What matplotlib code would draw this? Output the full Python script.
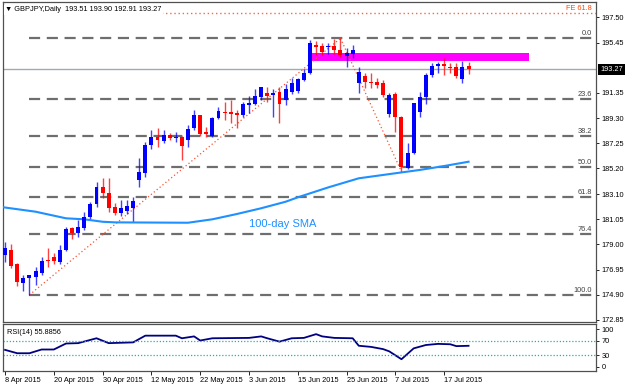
import pandas as pd
import matplotlib
matplotlib.use('Agg')
import matplotlib.pyplot as plt
from matplotlib.patches import Rectangle

plt.rcParams['font.family'] = ['Liberation Sans', 'DejaVu Sans']

# daily bars, 8 Apr 2015 .. 23 Jul 2015
dates = pd.bdate_range('2015-04-08', periods=77)

opens = [178.14, 178.55, 177.41, 175.84, 176.25, 176.38, 176.70, 177.74, 178.00, 177.60,
         178.55, 180.32, 179.96, 180.32, 181.26, 182.30, 183.71, 183.22, 182.03, 181.56,
         181.73, 181.95, 184.25, 184.82, 187.10, 187.79, 187.45, 187.92, 187.65, 187.78,
         187.55, 188.46, 189.55, 188.18, 187.83, 189.27, 189.81, 189.81, 189.73, 189.55,
         190.36, 190.44, 191.04, 191.36, 191.15, 191.44, 190.77, 191.42, 191.50, 192.40,
         192.94, 195.25, 195.16, 195.06, 195.16, 194.84, 194.35, 194.51, 192.15, 192.72,
         192.26, 192.26, 192.13, 189.63, 191.25, 189.35, 185.23, 186.47, 189.81, 191.04,
         192.80, 193.53, 193.67, 193.48, 193.43, 192.45, 193.51]
highs = [179.23, 179.04, 177.45, 176.52, 176.55, 177.19, 178.00, 178.71, 178.31, 178.96,
         180.40, 180.40, 180.99, 181.67, 182.48, 184.11, 184.39, 184.39, 182.35, 182.62,
         182.62, 182.89, 186.02, 187.37, 188.32, 188.46, 188.32, 188.10, 188.18, 187.83,
         188.73, 189.95, 189.57, 188.59, 189.41, 190.22, 190.63, 190.77, 189.95, 190.63,
         191.09, 191.64, 191.85, 191.80, 191.64, 191.85, 192.07, 192.53, 192.56, 193.27,
         195.65, 195.59, 195.38, 195.43, 195.71, 195.79, 194.98, 195.25, 193.43, 192.94,
         192.94, 192.53, 192.40, 191.31, 191.44, 189.45, 187.24, 190.55, 191.44, 192.99,
         193.75, 193.89, 194.16, 193.80, 193.80, 193.97, 193.90]
lows = [177.60, 177.06, 175.62, 175.24, 174.89, 175.70, 176.52, 177.19, 177.41, 177.41,
        178.49, 179.42, 179.59, 180.18, 180.99, 182.03, 182.76, 181.67, 181.40, 181.32,
        181.48, 180.85, 183.71, 184.50, 186.77, 186.94, 187.24, 187.51, 187.37, 185.88,
        186.98, 188.32, 187.83, 187.78, 187.73, 189.19, 189.14, 188.87, 188.46, 189.41,
        189.68, 190.36, 190.77, 190.63, 189.41, 188.87, 190.36, 191.25, 191.34, 192.34,
        192.88, 194.43, 194.43, 194.51, 194.51, 194.29, 193.43, 194.16, 191.31, 191.72,
        191.72, 191.72, 191.03, 189.41, 188.18, 184.93, 185.12, 186.37, 189.36, 190.44,
        192.66, 192.94, 192.80, 192.94, 192.53, 192.18, 192.91]
closes = [178.71, 177.27, 175.97, 176.25, 176.52, 176.84, 177.68, 177.63, 177.68, 178.55,
          180.29, 179.91, 180.40, 181.26, 182.30, 183.71, 183.22, 181.95, 181.59, 181.95,
          182.13, 182.54, 184.93, 187.10, 187.75, 187.47, 187.92, 187.65, 187.78, 187.02,
          188.38, 189.55, 187.99, 187.99, 189.27, 189.89, 189.68, 189.63, 189.55, 190.44,
          190.55, 191.09, 191.80, 191.09, 191.31, 190.44, 191.66, 192.15, 192.48, 192.99,
          195.38, 195.11, 194.70, 195.16, 194.84, 194.43, 194.62, 194.84, 193.05, 192.26,
          192.18, 191.99, 191.17, 191.17, 189.41, 185.31, 186.47, 190.50, 191.04, 192.80,
          193.53, 193.67, 193.53, 193.40, 192.72, 193.48, 193.27]

# 100-day SMA, read at a few bars
sma_idx = [-1, 0, 5, 10, 13, 16, 18, 30, 34, 38, 42, 46, 48, 53, 58, 64, 68, 72, 76]
sma_val = [182.08, 182.01, 181.67, 181.13, 181.05, 180.85, 180.80, 180.77, 181.05, 181.48,
           181.95, 182.48, 182.84, 183.65, 184.39, 184.80, 185.07, 185.39, 185.74]

# RSI(14)
rsi_idx = [0, 2, 4, 6, 8, 10, 12, 15, 17, 21, 23, 28, 29, 31, 32, 34, 40, 42, 43, 45,
           47, 49, 51, 52, 54, 57, 58, 60, 62, 63, 65, 67, 69, 71, 73, 74, 76]
rsi_val = [45, 36, 36, 46, 46, 62, 63, 76, 63, 65, 83, 83, 76, 81, 70, 76, 77, 81, 76, 67,
           76, 77, 87, 81, 77, 76, 56, 53, 47, 41, 20, 49, 58, 61, 60, 55, 55.8856]

# fibonacci drawing
i_lo, i_hi, i_lo2 = 4, 55, 65
swing_lo, swing_hi, swing_lo2 = 174.89, 195.79, 184.93
fib_levels = [0.0, 23.6, 38.2, 50.0, 61.8, 76.4, 100.0]
fe_level = 61.8
zone_lo, zone_hi = 193.94, 194.57
zone_start, zone_end = 50.3, 85.9
last_price = 193.27
price_ticks = [197.50, 195.45, 191.35, 189.30, 187.25, 185.20, 183.10, 181.05,
               179.00, 176.95, 174.90, 172.85]

FS = 5.3
x_min, x_max = -0.33, 96.9
line_end = 96.2

fig = plt.figure(figsize=(6.28, 3.87), dpi=100)
ax = fig.add_axes([0.0048, 0.1672, 0.9443, 0.8276])
ax_rsi = fig.add_axes([0.0048, 0.0413, 0.9443, 0.1202])

# candles
for i in range(len(opens)):
    o, h, l, c = opens[i], highs[i], lows[i], closes[i]
    col = '#0000FF' if c >= o else '#FF0000'
    ax.vlines(i, l, h, color=col, lw=1.0, alpha=0.75, zorder=3)
    body = max(abs(c - o), 0.06)
    ax.bar(i, body, bottom=min(o, c), width=0.65, color=col, zorder=4, lw=0)

# resistance zone
ax.add_patch(Rectangle((zone_start, zone_lo), zone_end - zone_start, zone_hi - zone_lo,
                       facecolor='#FF00FF', edgecolor='none', zorder=2))

# fib retracement levels
rng = swing_hi - swing_lo
for lv in fib_levels:
    y = swing_hi - rng * lv / 100
    ax.hlines(y, i_lo, line_end, colors='#6E6E6E', linestyles=(0, (5, 3)), lw=1.6, zorder=1)
    ax.text(line_end, y + 0.08, f'{lv:.1f}', ha='right', va='bottom', fontsize=FS,
            color='#404040', zorder=5)

# fib connectors
ax.plot([i_lo, i_hi], [swing_lo, swing_hi], color='#FF5030', ls=(0, (1, 2)), lw=0.9, zorder=2)
ax.plot([i_hi, i_lo2], [swing_hi, swing_lo2], color='#FF5030', ls=(0, (1, 2)), lw=0.9, zorder=2)

# fib expansion
fe = swing_lo2 + rng * fe_level / 100
ax.axhline(fe, color='#FF6347', ls=(0, (1, 2)), lw=1.0, zorder=1)
ax.text(line_end, fe + 0.06, f'FE {fe_level}', ha='right', va='bottom', fontsize=FS,
        color='#FF4500')

# SMA
ax.plot(sma_idx, sma_val, color='#1E90FF', lw=1.5, zorder=3)
ax.text(40, 180.67, '100-day SMA', color='#1E90FF', fontsize=8, va='center', ha='left')

# current price line + label
ax.axhline(last_price, color='#A0AAB4', lw=1.0, zorder=1)
ax.text(1.007, last_price, f'{last_price:.2f}', transform=ax.get_yaxis_transform(),
        ha='left', va='center', fontsize=FS, color='white', clip_on=False,
        bbox=dict(boxstyle='square,pad=0.25', fc='black', ec='none'))

ax.text(0.004, 0.976,
        '\u25bc GBPJPY,Daily  ' + ' '.join(f'{v:.2f}' for v in
                                         (opens[-1], highs[-1], lows[-1], closes[-1])),
        transform=ax.transAxes, ha='left', va='center', fontsize=FS, color='black',
        bbox=dict(boxstyle='square,pad=0.2', fc='white', ec='none'), zorder=6)

ax.set_xlim(x_min, x_max)
ax.set_ylim(172.66, 198.75)
ax.set_xticks([])
ax.yaxis.tick_right()
ax.set_yticks(price_ticks)
ax.set_yticklabels([f'{v:.2f}' for v in price_ticks])
ax.tick_params(axis='y', labelsize=FS, length=2, pad=2, width=0.6)

# RSI panel
ax_rsi.plot(rsi_idx, rsi_val, color='#000080', lw=1.3)
for lv in (70, 30):
    ax_rsi.axhline(lv, color='#20B2AA', ls=(0, (1, 1.5)), lw=0.9)
ax_rsi.text(0.007, 0.82, 'RSI(14) 55.8856', transform=ax_rsi.transAxes, fontsize=FS,
            ha='left', va='center')
ax_rsi.set_xlim(x_min, x_max)
ax_rsi.set_ylim(-11.5, 112.8)
ax_rsi.yaxis.tick_right()
ax_rsi.set_yticks([0, 30, 70, 100])
ax_rsi.set_yticklabels(['0', '30', '70', '100'])
ax_rsi.tick_params(axis='y', labelsize=FS, length=2, pad=2, width=0.6)

tick_pos = list(range(0, len(dates), 8))
ax_rsi.set_xticks(tick_pos)
ax_rsi.set_xticklabels([f'{dates[k].day} {dates[k].strftime("%b %Y")}' for k in tick_pos])
ax_rsi.tick_params(axis='x', labelsize=FS, length=3, pad=1, width=0.6)
for lab in ax_rsi.get_xticklabels():
    lab.set_horizontalalignment('left')

for a in (ax, ax_rsi):
    for s in a.spines.values():
        s.set_color('#505050')
        s.set_linewidth(0.9)

fig.savefig('out.png', dpi=100)
